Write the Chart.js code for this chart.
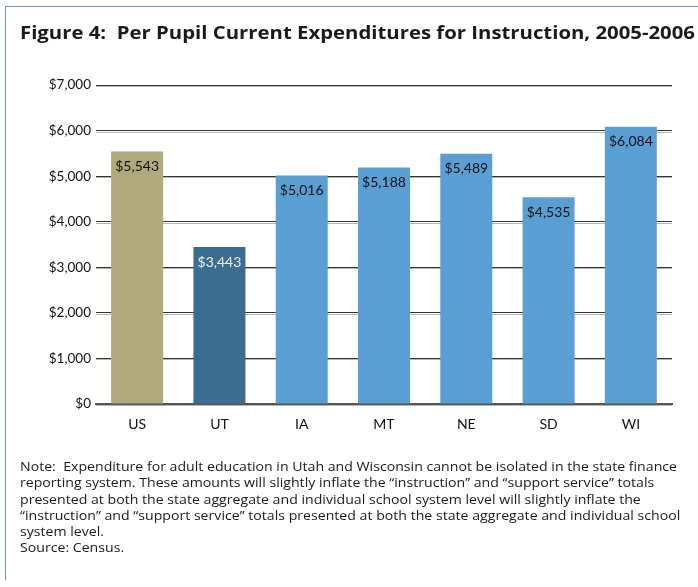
<!DOCTYPE html>
<html>
<head>
<meta charset="utf-8">
<script src="https://cdn.jsdelivr.net/npm/chart.js@4/dist/chart.umd.min.js"></script>
<style>
  html, body { margin: 0; padding: 0; background: #fff; }
  #wrap { position: relative; width: 698px; height: 587px; overflow: hidden; }
  #frameTop { position: absolute; left: 6px; top: 6px; width: 692px; height: 0; border-top: 1.5px solid #6f93b3; }
  #frameLeft { position: absolute; left: 5px; top: 6px; width: 0; height: 574px; border-left: 1.5px solid #6f93b3; }
  #title { position: absolute; left: 20px; top: 21px; font-family: "Open Sans", Lato, sans-serif; font-weight: bold; font-size: 17px; color: #1a1a1a; white-space: nowrap; transform-origin: 0 0; }
  #note { position: absolute; left: 20px; top: 459px; font-family: "Open Sans", Lato, sans-serif; font-size: 12px; line-height: 16.3px; color: #1a1a1a; white-space: nowrap; transform-origin: 0 0; }
  #note span { display: inline-block; }
  canvas { position: absolute; left: 0; top: 0; }
</style>
</head>
<body>
<div id="wrap">
  <div id="frameTop"></div>
  <div id="frameLeft"></div>
  <canvas id="c" width="698" height="587"></canvas>
  <div id="title">Figure 4:&nbsp; Per Pupil Current Expenditures for Instruction, 2005-2006</div>
  <div id="note"><span id="noteFirst">Note:&nbsp; Expenditure for adult education in Utah and Wisconsin cannot be isolated in the state finance</span><br>reporting system. These amounts will slightly inflate the “instruction” and “support service” totals<br>presented at both the state aggregate and individual school system level will slightly inflate the<br>“instruction” and “support service” totals presented at both the state aggregate and individual school<br>system level.<br>Source: Census.</div>
</div>
<script>
// Per pupil instruction spending, 2005-2006
const regions = ["US", "UT", "IA", "MT", "NE", "SD", "WI"];
const spending = [5543, 3443, 5016, 5188, 5489, 4535, 6084];
const barColors = ["#b0a97b", "#3a6d8f", "#5a9fd4", "#5a9fd4", "#5a9fd4", "#5a9fd4", "#5a9fd4"];
const labelColors = ["#111", "#eef3f7", "#111", "#111", "#111", "#111", "#111"];
const yTicks = [0, 1000, 2000, 3000, 4000, 5000, 6000, 7000];

const FONT = "Lato, 'Open Sans', sans-serif";
const money = v => "$" + v.toLocaleString("en-US");

// stretch the heading and footnote horizontally to their column widths
function fitWidth(el, measureEl, target) {
  const w = measureEl.getBoundingClientRect().width;
  if (w > 0) el.style.transform = "scaleX(" + (target / w) + ")";
}
fitWidth(document.getElementById("title"), document.getElementById("title"), 675);
fitWidth(document.getElementById("note"), document.getElementById("noteFirst"), 657);

// soft grey shadow under each gridline
const gridShadow = {
  id: "gridShadow",
  beforeDatasetsDraw(chart) {
    const { ctx, chartArea, scales } = chart;
    ctx.save();
    ctx.strokeStyle = "#b5b5b5";
    ctx.lineWidth = 1;
    yTicks.forEach(t => {
      const y = Math.round(scales.y.getPixelForValue(t)) + 1.5;
      ctx.beginPath();
      ctx.moveTo(chartArea.left, y);
      ctx.lineTo(chartArea.right, y);
      ctx.stroke();
    });
    ctx.restore();
  }
};

// value labels inside the top of each bar
const valueLabels = {
  id: "valueLabels",
  afterDatasetsDraw(chart) {
    const { ctx } = chart;
    const meta = chart.getDatasetMeta(0);
    ctx.save();
    ctx.font = "14px " + FONT;
    ctx.textAlign = "center";
    ctx.textBaseline = "middle";
    meta.data.forEach((bar, i) => {
      ctx.fillStyle = labelColors[i];
      ctx.fillText(money(spending[i]), bar.x, bar.y + 15);
    });
    ctx.restore();
  }
};

new Chart(document.getElementById("c"), {
  type: "bar",
  data: {
    labels: regions,
    datasets: [{
      data: spending,
      backgroundColor: barColors,
      borderWidth: 0,
      categoryPercentage: 1,
      barPercentage: 0.632
    }]
  },
  options: {
    responsive: false,
    animation: false,
    events: [],
    layout: { padding: { left: 0, right: 26, top: 85, bottom: 0 } },
    plugins: { legend: { display: false }, tooltip: { enabled: false } },
    scales: {
      x: {
        grid: { display: false, drawTicks: false },
        border: { display: true, color: "#555", width: 2 },
        ticks: { color: "#111", font: { family: FONT, size: 14 }, padding: 12 },
        afterFit(s) { s.height = 183; }
      },
      y: {
        min: 0, max: 7000,
        afterBuildTicks(s) { s.ticks = yTicks.map(v => ({ value: v })); },
        grid: { color: "#333", lineWidth: 1, drawTicks: false },
        border: { display: false },
        ticks: { color: "#111", font: { family: FONT, size: 13.5 }, padding: 5, callback: v => money(v) },
        afterFit(s) { s.width = 96; }
      }
    }
  },
  plugins: [gridShadow, valueLabels]
});
</script>
</body>
</html>
